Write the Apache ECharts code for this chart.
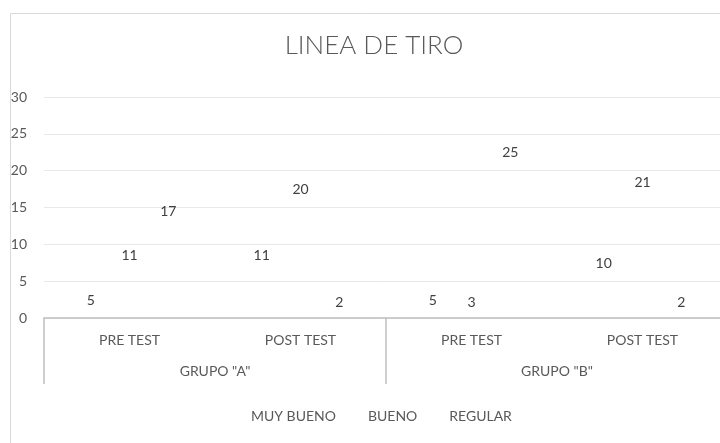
<!DOCTYPE html>
<html>
<head>
<meta charset="utf-8">
<script src="https://cdn.jsdelivr.net/npm/echarts@6/dist/echarts.min.js"></script>
<style>
  html, body { margin: 0; padding: 0; background: #fff; }
  #chart { width: 720px; height: 443px; }
</style>
</head>
<body>
<div id="chart"></div>
<script>
// datos del grafico
var fases = ['PRE TEST', 'POST TEST', 'PRE TEST', 'POST TEST'];
var grupos = ['GRUPO "A"', 'GRUPO "B"'];
var muyBueno = [5, 11, 5, 10];
var bueno = [11, 20, 3, 21];
var regular = [17, 2, 25, 2];
var yTicks = [0, 5, 10, 15, 20, 25, 30];

var fontFam = 'Lato, "Open Sans", sans-serif';

// etiqueta dentro del extremo, o abajo si la barra es muy corta
function buildData(arr) {
    return arr.map(function (v) {
        var small = v < 5;
        return {
            value: v,
            label: {
                position: small ? 'insideBottom' : 'insideTop',
                distance: small ? 9 : 12
            }
        };
    });
}

function serie(name, arr) {
    return {
        name: name,
        type: 'bar',
        barGap: 0,
        barCategoryGap: '32%',
        itemStyle: { color: 'rgba(0,0,0,0)' },
        label: {
            show: true,
            color: '#404040',
            fontSize: 14,
            fontFamily: fontFam
        },
        data: buildData(arr)
    };
}

var myChart = echarts.init(document.getElementById('chart'));
var option = {
    animation: false,
    backgroundColor: '#fff',
    graphic: [{
        type: 'rect',
        left: 8,
        top: 11,
        shape: { width: 730, height: 450 },
        style: { fill: 'none', stroke: '#d9d9d9', lineWidth: 1 }
    }],
    title: {
        text: 'LINEA DE TIRO',
        left: 369,
        textAlign: 'center',
        top: 28,
        textStyle: {
            color: '#595959',
            fontSize: 26,
            fontWeight: 300,
            fontFamily: fontFam
        }
    },
    legend: {
        bottom: 15,
        left: 235,
        itemWidth: 6,
        itemHeight: 6,
        itemGap: 21,
        icon: 'rect',
        itemStyle: { color: 'rgba(0,0,0,0)' },
        textStyle: { color: '#595959', fontSize: 14, fontFamily: fontFam },
        data: ['MUY BUENO', 'BUENO', 'REGULAR']
    },
    grid: { left: 44, width: 684, top: 97, height: 221, outerBoundsMode: 'none', containLabel: false },
    xAxis: [{
        type: 'category',
        position: 'bottom',
        data: fases,
        axisLine: { lineStyle: { color: '#bfbfbf', width: 1.5 } },
        axisTick: { show: false },
        axisLabel: { color: '#595959', fontSize: 14, margin: 15, fontFamily: fontFam }
    }, {
        type: 'category',
        position: 'bottom',
        offset: 0,
        data: grupos,
        axisLine: { show: false },
        axisTick: { show: true, length: 66, lineStyle: { color: '#bfbfbf', width: 1.5 } },
        axisLabel: { color: '#595959', fontSize: 14, margin: 46, fontFamily: fontFam }
    }],
    yAxis: {
        type: 'value',
        min: yTicks[0],
        max: yTicks[yTicks.length - 1],
        interval: 5,
        axisLine: { show: false },
        axisTick: { show: false },
        axisLabel: { color: '#595959', fontSize: 14, margin: 17, fontFamily: fontFam },
        splitLine: { lineStyle: { color: '#e8e8e8' } }
    },
    series: [
        serie('MUY BUENO', muyBueno),
        serie('BUENO', bueno),
        serie('REGULAR', regular)
    ]
};
myChart.setOption(option);
</script>
</body>
</html>
